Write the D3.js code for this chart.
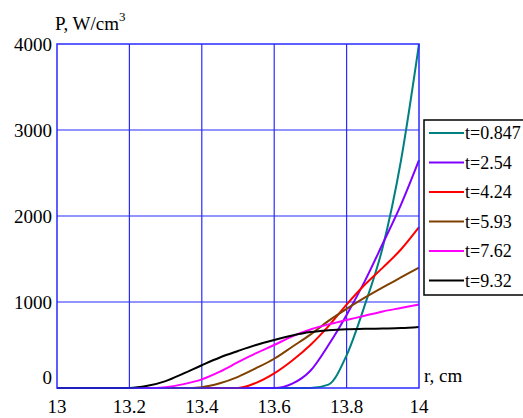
<!DOCTYPE html>
<html>
<head>
<meta charset="utf-8">
<script src="https://cdn.jsdelivr.net/npm/d3@7"></script>
<style>
	body { margin: 0; background: #fff; }
	#wrap { position: relative; width: 523px; height: 418px; }
	#wrap svg { position: absolute; left: 0; top: 0; }
	.lbl { position: absolute; white-space: nowrap; line-height: 1; color: #000;
		font-family: "Liberation Serif", Tinos, "Times New Roman", serif; }
</style>
</head>
<body>
<div id="wrap"><svg id="chart" width="523" height="418"></svg></div>
<script>
// radius, cm
const radius = [13.00, 13.05, 13.10, 13.15, 13.20, 13.25, 13.30, 13.35, 13.40, 13.45, 13.50,
	13.55, 13.60, 13.65, 13.70, 13.75, 13.80, 13.85, 13.90, 13.95, 14.00];

// power density, W/cm^3, one list per time
const p0847 = [0, 0, 0, 0, 0, 0, 0, 0, 0, 0, 0, 0, 0, 0, 0, 40, 380, 960, 1640, 2640, 4000];
const p254  = [0, 0, 0, 0, 0, 0, 0, 0, 0, 0, 0, 0, 0, 50, 200, 500, 850, 1240, 1680, 2130, 2650];
const p424  = [0, 0, 0, 0, 0, 0, 0, 0, 0, 0, 0, 60, 170, 320, 500, 720, 970, 1200, 1400, 1610, 1870];
const p593  = [0, 0, 0, 0, 0, 0, 0, 0, 10, 55, 130, 230, 340, 480, 620, 780, 920, 1050, 1170, 1285, 1400];
const p762  = [0, 0, 0, 0, 0, 0, 10, 45, 100, 190, 300, 405, 500, 600, 680, 740, 790, 840, 890, 930, 970];
const p932  = [0, 0, 0, 0, 0, 25, 80, 170, 265, 355, 430, 500, 558, 610, 650, 672, 684, 688, 692, 697, 710];

const seriesNames = ['t=0.847', 't=2.54', 't=4.24', 't=5.93', 't=7.62', 't=9.32'];
const seriesColors = ['#008080', '#8000ff', '#ff0000', '#804000', '#ff00ff', '#000000'];
const seriesValues = [p0847, p254, p424, p593, p762, p932];

const xTicks = [13, 13.2, 13.4, 13.6, 13.8, 14];
const yTicks = [0, 1000, 2000, 3000, 4000];

const wrap = d3.select('#wrap');
const svg = d3.select('#chart');
const plotL = 57, plotR = 419, plotT = 44, plotB = 388;

const x = d3.scaleLinear().domain([13, 14]).range([plotL, plotR]);
const y = d3.scaleLinear().domain([0, 4000]).range([plotB, plotT]);

/* grid */
const grid = svg.append('g').attr('stroke', '#2a2aff').attr('stroke-width', 1.2);
grid.selectAll('line.v').data(xTicks.slice(1, -1)).enter().append('line')
	.attr('x1', d => x(d)).attr('x2', d => x(d))
	.attr('y1', plotT).attr('y2', plotB);
grid.selectAll('line.h').data(yTicks.slice(1, -1)).enter().append('line')
	.attr('x1', plotL).attr('x2', plotR)
	.attr('y1', d => y(d)).attr('y2', d => y(d));

/* curves */
const line = d3.line()
	.x((d, i) => x(radius[i]))
	.y(d => y(d))
	.curve(d3.curveMonotoneX);

svg.append('g').selectAll('path').data(seriesValues).enter().append('path')
	.attr('d', d => line(d))
	.attr('fill', 'none')
	.attr('stroke', (d, i) => seriesColors[i])
	.attr('stroke-width', 2);

/* frame */
svg.append('rect')
	.attr('x', plotL).attr('y', plotT)
	.attr('width', plotR - plotL).attr('height', plotB - plotT)
	.attr('fill', 'none').attr('stroke', '#2a2aff').attr('stroke-width', 1.5);

/* legend box and samples */
svg.append('rect')
	.attr('x', 424).attr('y', 120)
	.attr('width', 110).attr('height', 175)
	.attr('fill', '#fff').attr('stroke', '#000').attr('stroke-width', 1.5);

svg.append('g').selectAll('line').data(seriesNames).enter().append('line')
	.attr('x1', 429).attr('x2', 464)
	.attr('y1', (d, i) => 133 + i * 29.5).attr('y2', (d, i) => 133 + i * 29.5)
	.attr('stroke', (d, i) => seriesColors[i])
	.attr('stroke-width', 2);

/* html labels: (cx, cy) is the centre of the digits, anchor shifts horizontally */
function addLabel(txt, px, cy, size, anchor) {
	const shift = anchor === 'middle' ? '-50%' : anchor === 'end' ? '-100%' : '0';
	return wrap.append('div').attr('class', 'lbl')
		.style('left', `${px}px`)
		.style('top', `${cy - size * 0.5}px`)
		.style('font-size', `${size}px`)
		.style('transform', `translateX(${shift})`)
		.text(txt);
}

xTicks.forEach(d => addLabel(d, x(d), 406, 19, 'middle'));
yTicks.forEach(d => addLabel(d, 52, Math.min(y(d), plotB - 11), 19, 'end'));

const yTitle = addLabel('P, W/cm', 55, 23, 19, 'start');
yTitle.append('span')
	.style('font-size', '13px')
	.style('position', 'relative')
	.style('top', '-9px')
	.text('3');

addLabel('r, cm', 424, 375, 19, 'start');

seriesNames.forEach((d, i) => addLabel(d, 465, 133 + i * 29.5, 18, 'start'));
</script>
</body>
</html>
